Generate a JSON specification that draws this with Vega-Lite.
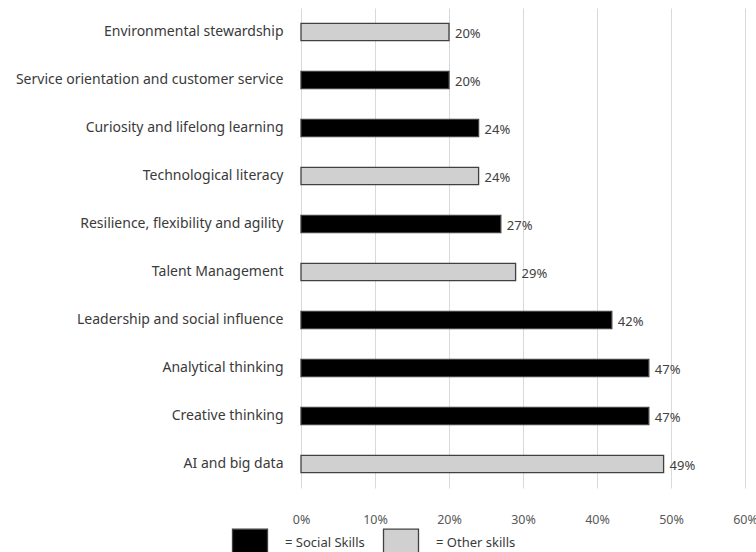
{
  "$schema": "https://vega.github.io/schema/vega-lite/v6.json",
  "autosize": {"type": "none"},
  "width": 444,
  "height": 480,
  "padding": {"left": 301, "top": 8, "right": 11, "bottom": 64},
  "background": "white",
  "config": {
    "view": {"stroke": null},
    "font": "Noto Sans"
  },
  "data": {
    "values": [
      {"skill": "Environmental stewardship", "share": 0.20, "group": "Other skills"},
      {"skill": "Service orientation and customer service", "share": 0.20, "group": "Social Skills"},
      {"skill": "Curiosity and lifelong learning", "share": 0.24, "group": "Social Skills"},
      {"skill": "Technological literacy", "share": 0.24, "group": "Other skills"},
      {"skill": "Resilience, flexibility and agility", "share": 0.27, "group": "Social Skills"},
      {"skill": "Talent Management", "share": 0.29, "group": "Other skills"},
      {"skill": "Leadership and social influence", "share": 0.42, "group": "Social Skills"},
      {"skill": "Analytical thinking", "share": 0.47, "group": "Social Skills"},
      {"skill": "Creative thinking", "share": 0.47, "group": "Social Skills"},
      {"skill": "AI and big data", "share": 0.49, "group": "Other skills"}
    ]
  },
  "encoding": {
    "y": {
      "field": "skill",
      "type": "nominal",
      "sort": null,
      "scale": {"paddingInner": 0.64, "paddingOuter": 0.32},
      "axis": {
        "title": null,
        "domain": false,
        "ticks": false,
        "labelPadding": 18,
        "labelFontSize": 14,
        "labelColor": "#3a3a3a",
        "labelLimit": 320
      }
    },
    "x": {
      "field": "share",
      "type": "quantitative",
      "scale": {"domain": [0, 0.6], "nice": false},
      "axis": {
        "title": null,
        "format": ".0%",
        "values": [0, 0.1, 0.2, 0.3, 0.4, 0.5, 0.6],
        "domain": false,
        "ticks": false,
        "grid": true,
        "gridColor": "#d9d9d9",
        "gridWidth": 1,
        "labelFlush": false,
        "labelOverlap": false,
        "labelPadding": 25,
        "labelFontSize": 12.5,
        "labelColor": "#595959"
      }
    }
  },
  "layer": [
    {
      "mark": {"type": "bar", "stroke": "#404040", "strokeWidth": 1.3},
      "encoding": {
        "fill": {
          "field": "group",
          "type": "nominal",
          "scale": {"domain": ["Social Skills", "Other skills"], "range": ["#000000", "#d0d0d0"]},
          "legend": {
            "title": null,
            "orient": "none",
            "direction": "horizontal",
            "legendX": -66,
            "legendY": 520,
            "padding": 0,
            "symbolType": "M-1.25,-1H1.25V1H-1.25Z",
            "symbolSize": 784,
            "symbolStrokeColor": "#404040",
            "symbolStrokeWidth": 1.3,
            "labelOffset": 20,
            "columnPadding": 15,
            "labelFontSize": 13,
            "labelColor": "#3a3a3a",
            "labelExpr": "'= ' + datum.label"
          }
        }
      }
    },
    {
      "mark": {"type": "text", "align": "left", "dx": 6, "dy": 2, "fontSize": 13, "color": "#404040"},
      "encoding": {
        "text": {"field": "share", "type": "quantitative", "format": ".0%"}
      }
    }
  ]
}
